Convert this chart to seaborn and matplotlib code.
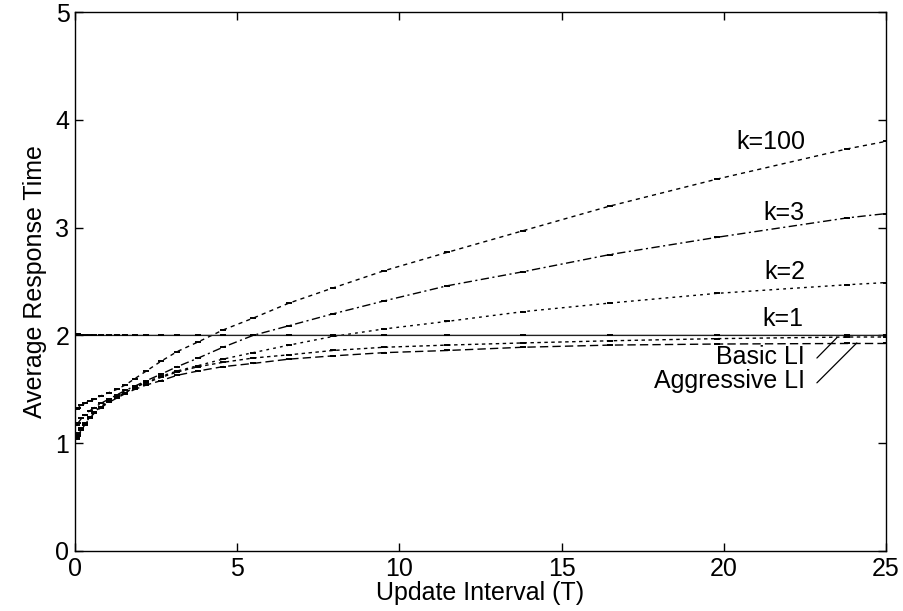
import matplotlib
matplotlib.use("Agg")
import matplotlib.pyplot as plt
import seaborn as sns
import pandas as pd

# ---- data ----
update_interval = [0.05, 0.1, 0.2, 0.3, 0.45, 0.6, 0.8, 1.05, 1.3, 1.55, 1.85, 2.2, 2.65,
                   3.15, 3.8, 4.56, 5.49, 6.6, 7.95, 9.53, 11.47, 13.8, 16.49, 19.79, 23.8, 25.0]

k100 = [1.32, 1.33, 1.35, 1.37, 1.39, 1.41, 1.44, 1.47, 1.50, 1.54, 1.60, 1.67, 1.76,
        1.85, 1.94, 2.05, 2.16, 2.30, 2.44, 2.60, 2.77, 2.97, 3.20, 3.45, 3.73, 3.80]
k3 = [1.17, 1.19, 1.23, 1.26, 1.30, 1.33, 1.37, 1.41, 1.45, 1.49, 1.53, 1.58, 1.64,
      1.71, 1.79, 1.89, 2.00, 2.09, 2.20, 2.32, 2.46, 2.59, 2.75, 2.91, 3.09, 3.13]
k2 = [1.06, 1.09, 1.14, 1.19, 1.24, 1.29, 1.34, 1.39, 1.43, 1.47, 1.52, 1.57, 1.62,
      1.67, 1.72, 1.78, 1.84, 1.91, 1.99, 2.06, 2.13, 2.22, 2.30, 2.39, 2.47, 2.49]
k1 = [2.01, 2.01, 2.00, 2.00, 2.00, 2.00, 2.00, 2.00, 2.00, 2.00, 2.00, 2.00, 2.00,
      2.00, 2.00, 2.00, 2.00, 2.00, 2.00, 2.00, 2.00, 2.00, 2.00, 2.00, 2.00, 2.00]
basic_li = [1.05, 1.08, 1.13, 1.18, 1.24, 1.29, 1.34, 1.39, 1.43, 1.47, 1.52, 1.56, 1.61,
            1.66, 1.71, 1.75, 1.79, 1.82, 1.86, 1.89, 1.91, 1.93, 1.95, 1.97, 1.985, 1.985]
aggressive_li = [1.04, 1.07, 1.12, 1.17, 1.23, 1.28, 1.33, 1.38, 1.42, 1.46, 1.50, 1.54, 1.58,
                 1.63, 1.67, 1.71, 1.74, 1.78, 1.81, 1.84, 1.86, 1.89, 1.91, 1.92, 1.925, 1.925]

series_names = ["k=100", "k=3", "k=2", "k=1", "Basic LI", "Aggressive LI"]
series_values = [k100, k3, k2, k1, basic_li, aggressive_li]

x_ticks = [0, 5, 10, 15, 20, 25]
y_ticks = [0, 1, 2, 3, 4, 5]

# ---- build long-form table ----
rows = []
for name, vals in zip(series_names, series_values):
    for xv, yv in zip(update_interval, vals):
        rows.append({"x": xv, "y": yv, "series": name})
df = pd.DataFrame(rows)

sns.set_style("ticks")
plt.rcParams["font.family"] = ["Liberation Sans", "DejaVu Sans"]
plt.rcParams["text.color"] = "black"
plt.rcParams["axes.labelcolor"] = "black"
plt.rcParams["xtick.color"] = "black"
plt.rcParams["ytick.color"] = "black"
plt.rcParams["axes.edgecolor"] = "black"

fig = plt.figure(figsize=(9.04, 6.11), dpi=100)
ax = fig.add_axes([75 / 904, 1 - 551 / 611, (886 - 75) / 904, (551 - 12) / 611])

palette = {"k=100": "black", "k=3": "black", "k=2": "black",
           "k=1": "#222222", "Basic LI": "black", "Aggressive LI": "black"}
dashes = {"k=100": (3, 3), "k=3": (6, 2.5, 1.5, 2.5), "k=2": (2, 3),
          "k=1": "", "Basic LI": (2.5, 2.5), "Aggressive LI": (6, 3)}

sns.lineplot(data=df, x="x", y="y", hue="series", style="series",
             palette=palette, dashes=dashes, markers=False,
             hue_order=series_names, style_order=series_names,
             linewidth=1.0, legend=False, ax=ax, estimator=None, sort=True)

# small error-bar-like point marks
for name, vals in zip(series_names, series_values):
    ax.plot(update_interval, vals, linestyle="none", marker="_", markersize=5,
            markeredgewidth=1.4, color="black", clip_on=True)

ax.set_xlim(0, 25)
ax.set_ylim(0, 5)
ax.set_xticks(x_ticks)
ax.set_yticks(y_ticks)
ax.set_xticklabels([str(t) for t in x_ticks])
ax.set_yticklabels([str(t) for t in y_ticks])
ax.tick_params(direction="in", top=True, right=True, length=6, width=1,
               labelsize=18, pad=4, colors="black")
for sp in ax.spines.values():
    sp.set_visible(True)
    sp.set_linewidth(1.0)
    sp.set_color("black")

ax.set_xlabel("Update Interval (T)", fontsize=18, labelpad=0, color="black")
ax.set_ylabel("Average Response Time", fontsize=18, labelpad=6, color="black")

# curve labels
ax.text(22.5, 3.79, "k=100", ha="right", va="center", fontsize=18, color="black")
ax.text(22.5, 3.14, "k=3", ha="right", va="center", fontsize=18, color="black")
ax.text(22.5, 2.59, "k=2", ha="right", va="center", fontsize=18, color="black")
ax.text(22.45, 2.15, "k=1", ha="right", va="center", fontsize=18, color="black")
ax.text(22.5, 1.80, "Basic LI", ha="right", va="center", fontsize=18, color="black")
ax.text(22.5, 1.58, "Aggressive LI", ha="right", va="center", fontsize=18, color="black")

# leader lines
ax.plot([22.87, 23.49], [1.79, 1.98], color="black", linewidth=0.9)
ax.plot([22.87, 24.1], [1.56, 1.93], color="black", linewidth=0.9)

fig.savefig("out.png", dpi=100)
